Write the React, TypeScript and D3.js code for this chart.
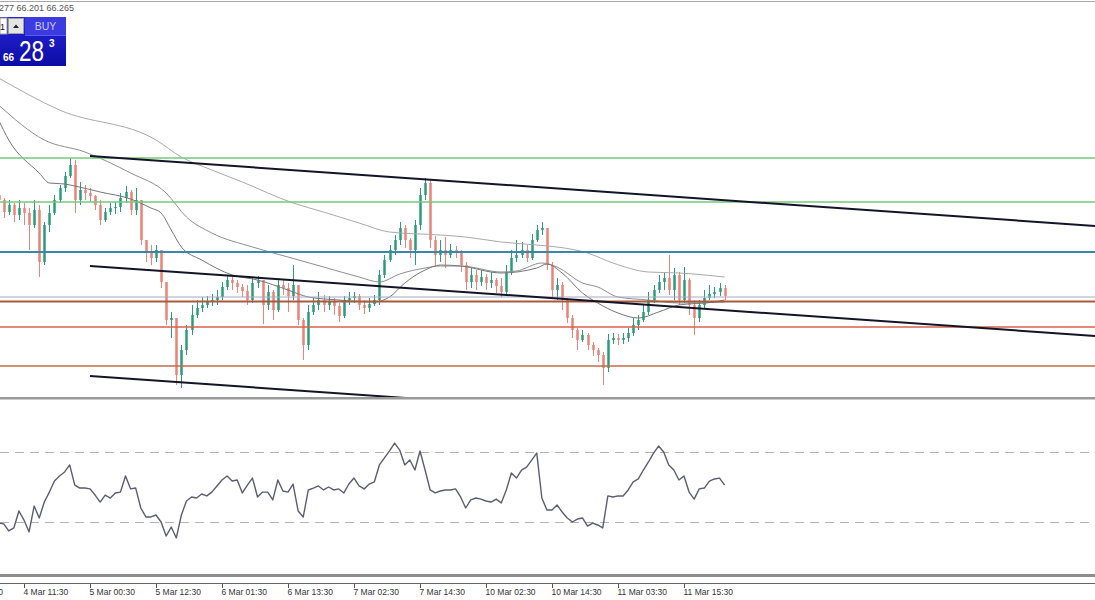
import React, { useEffect, useRef } from 'react';
import * as d3 from 'd3';

// candle data (price), one bar per slot
const firstOpen = 66.72;
const closes = [
  66.700, 66.652, 66.680, 66.640, 66.668, 66.648, 66.600, 66.660, 66.452, 66.600,
  66.648, 66.700, 66.748, 66.796, 66.840, 66.700, 66.740, 66.728, 66.716, 66.680,
  66.620, 66.652, 66.668, 66.672, 66.708, 66.732, 66.660, 66.700, 66.540, 66.492,
  66.468, 66.500, 66.372, 66.220, 66.228, 66.000, 66.100, 66.180, 66.240, 66.268,
  66.280, 66.292, 66.300, 66.312, 66.352, 66.380, 66.368, 66.352, 66.336, 66.300,
  66.368, 66.380, 66.280, 66.332, 66.260, 66.360, 66.348, 66.316, 66.360, 66.220,
  66.120, 66.252, 66.280, 66.300, 66.280, 66.292, 66.276, 66.236, 66.300, 66.308,
  66.316, 66.280, 66.268, 66.284, 66.300, 66.400, 66.460, 66.500, 66.540, 66.588,
  66.540, 66.500, 66.600, 66.720, 66.768, 66.540, 66.480, 66.500, 66.480, 66.500,
  66.492, 66.440, 66.372, 66.400, 66.372, 66.392, 66.368, 66.380, 66.356, 66.332,
  66.412, 66.468, 66.480, 66.500, 66.468, 66.540, 66.580, 66.588, 66.440, 66.340,
  66.360, 66.300, 66.228, 66.180, 66.140, 66.160, 66.120, 66.100, 66.080, 66.028,
  66.140, 66.148, 66.140, 66.148, 66.168, 66.200, 66.220, 66.252, 66.300, 66.340,
  66.372, 66.388, 66.340, 66.400, 66.300, 66.380, 66.280, 66.228, 66.280, 66.308,
  66.324, 66.332, 66.348, 66.316,
];
const highs = [
  66.740, 66.708, 66.700, 66.688, 66.700, 66.688, 66.668, 66.700, 66.680, 66.612,
  66.680, 66.720, 66.760, 66.812, 66.868, 66.860, 66.772, 66.760, 66.748, 66.720,
  66.700, 66.668, 66.688, 66.692, 66.728, 66.756, 66.740, 66.748, 66.680, 66.540,
  66.520, 66.520, 66.500, 66.372, 66.252, 66.228, 66.120, 66.200, 66.280, 66.300,
  66.312, 66.316, 66.324, 66.340, 66.372, 66.396, 66.396, 66.380, 66.364, 66.360,
  66.392, 66.396, 66.380, 66.360, 66.340, 66.388, 66.380, 66.368, 66.440, 66.360,
  66.228, 66.280, 66.308, 66.332, 66.320, 66.316, 66.308, 66.288, 66.316, 66.332,
  66.332, 66.324, 66.300, 66.308, 66.320, 66.420, 66.480, 66.520, 66.560, 66.612,
  66.600, 66.548, 66.620, 66.748, 66.788, 66.780, 66.556, 66.540, 66.552, 66.524,
  66.516, 66.500, 66.452, 66.428, 66.420, 66.420, 66.404, 66.412, 66.388, 66.388,
  66.440, 66.500, 66.540, 66.532, 66.520, 66.564, 66.600, 66.612, 66.588, 66.452,
  66.388, 66.372, 66.308, 66.240, 66.188, 66.180, 66.168, 66.132, 66.108, 66.092,
  66.164, 66.168, 66.164, 66.168, 66.188, 66.228, 66.240, 66.280, 66.332, 66.360,
  66.400, 66.412, 66.480, 66.428, 66.412, 66.432, 66.388, 66.300, 66.300, 66.340,
  66.360, 66.352, 66.368, 66.360,
];
const lows = [
  66.680, 66.628, 66.640, 66.612, 66.620, 66.600, 66.500, 66.588, 66.392, 66.440,
  66.572, 66.640, 66.688, 66.732, 66.788, 66.648, 66.680, 66.700, 66.692, 66.660,
  66.600, 66.612, 66.640, 66.644, 66.652, 66.688, 66.640, 66.640, 66.520, 66.452,
  66.440, 66.452, 66.348, 66.200, 66.148, 65.960, 65.948, 66.080, 66.160, 66.228,
  66.252, 66.268, 66.276, 66.280, 66.300, 66.340, 66.340, 66.328, 66.312, 66.280,
  66.288, 66.348, 66.204, 66.260, 66.220, 66.252, 66.320, 66.252, 66.300, 66.200,
  66.060, 66.100, 66.240, 66.260, 66.252, 66.260, 66.240, 66.212, 66.228, 66.280,
  66.288, 66.260, 66.244, 66.252, 66.276, 66.280, 66.388, 66.452, 66.480, 66.520,
  66.508, 66.468, 66.440, 66.580, 66.700, 66.508, 66.440, 66.452, 66.428, 66.468,
  66.468, 66.412, 66.340, 66.348, 66.340, 66.356, 66.340, 66.348, 66.328, 66.312,
  66.320, 66.400, 66.452, 66.468, 66.452, 66.460, 66.532, 66.560, 66.420, 66.308,
  66.300, 66.260, 66.208, 66.148, 66.100, 66.132, 66.100, 66.076, 66.052, 65.960,
  66.012, 66.124, 66.120, 66.124, 66.132, 66.156, 66.180, 66.212, 66.240, 66.288,
  66.328, 66.340, 66.320, 66.300, 66.280, 66.288, 66.240, 66.160, 66.212, 66.268,
  66.300, 66.308, 66.316, 66.300,
];

// oscillator (0-100), one value per bar
const rsi = [
  29.4, 28.9, 24.9, 26.6, 36.3, 31.1, 24.3, 39.1, 32.3, 41.4,
  47.1, 53.4, 56.3, 58.6, 62.6, 51.1, 49.4, 49.4, 48.9, 45.4,
  41.4, 45.4, 43.7, 46.6, 47.1, 56.3, 48.9, 49.4, 38.0, 32.9,
  32.9, 34.0, 30.0, 22.0, 27.1, 20.9, 34.0, 42.0, 44.3, 43.7,
  46.0, 44.9, 47.1, 50.6, 54.0, 56.3, 53.4, 54.0, 46.6, 51.1,
  55.1, 44.3, 47.1, 47.1, 42.6, 54.0, 47.7, 47.1, 51.7, 36.3,
  32.9, 48.3, 49.4, 50.6, 48.3, 50.0, 48.3, 48.9, 46.6, 51.7,
  55.1, 50.6, 48.9, 51.7, 52.9, 62.6, 66.6, 70.6, 75.1, 71.1,
  62.6, 65.4, 59.7, 70.6, 59.7, 48.3, 46.6, 47.7, 48.3, 48.3,
  48.9, 44.3, 38.0, 42.6, 43.7, 43.1, 42.0, 41.4, 43.1, 40.9,
  48.3, 58.0, 55.1, 59.7, 61.4, 65.4, 69.4, 43.7, 36.9, 36.9,
  39.7, 35.7, 32.3, 30.0, 31.7, 32.3, 27.7, 29.4, 28.3, 26.6,
  44.9, 44.3, 44.9, 44.9, 48.3, 52.9, 54.6, 59.7, 64.3, 69.4,
  73.4, 70.0, 62.6, 59.7, 54.0, 56.3, 47.1, 43.1, 48.9, 49.4,
  53.4, 54.6, 55.1, 51.1,
];
const rsiLevels = [70, 30];

// moving averages: [bar index, price]
const maSlow = [
  [0, 67.188], [12, 67.06], [31, 66.94], [36, 66.872], [42, 66.82], [48, 66.772],
  [58, 66.688], [64, 66.652], [71, 66.608], [77, 66.572], [87, 66.56], [92, 66.552],
  [99, 66.532], [106, 66.52], [110, 66.512], [116, 66.488], [121, 66.448],
  [128, 66.412], [134, 66.408], [143, 66.392],
];
const maMid = [
  [0, 67.08], [9, 66.94], [17, 66.892], [26, 66.808], [33, 66.728], [37, 66.632],
  [42, 66.568], [50, 66.512], [57, 66.472], [64, 66.432], [71, 66.392], [75, 66.372],
  [79, 66.404], [84, 66.428], [87, 66.436], [91, 66.436], [99, 66.412], [102, 66.416],
  [107, 66.448], [110, 66.432], [115, 66.368], [118, 66.352], [122, 66.312],
  [128, 66.3], [134, 66.288], [143, 66.292],
];
const maFast = [
  [0, 67.02], [2, 66.94], [8, 66.808], [10, 66.768], [13, 66.764], [15, 66.756],
  [20, 66.732], [26, 66.704], [30, 66.668], [32, 66.648], [34, 66.58], [36, 66.512],
  [40, 66.46], [46, 66.4], [51, 66.38], [57, 66.34], [61, 66.312], [67, 66.3],
  [74, 66.292], [77, 66.312], [80, 66.368], [84, 66.42], [87, 66.44], [91, 66.436],
  [99, 66.408], [106, 66.428], [108, 66.444], [111, 66.408], [115, 66.328],
  [118, 66.288], [122, 66.248], [126, 66.228], [130, 66.252], [134, 66.28],
  [141, 66.292], [143, 66.3],
];

// horizontal levels and channel lines
const levelPrices = [66.868, 66.692, 66.492, 66.312, 66.294, 66.192, 66.036];
const trendFrom = 18;
const trendTo = 216;
const trendPrices = [
  [66.876, 66.596],
  [66.436, 66.156],
  [65.996, 65.716],
];

const tickIdx = [-8, 5, 18, 31, 44, 57, 70, 83, 96, 109, 122, 135];
const tickLabels = [
  '3 Mar 22:30', '4 Mar 11:30', '5 Mar 00:30', '5 Mar 12:30', '6 Mar 01:30', '6 Mar 13:30',
  '7 Mar 02:30', '7 Mar 14:30', '10 Mar 02:30', '10 Mar 14:30', '11 Mar 03:30', '11 Mar 15:30',
];

const quote = ['66.277', '66.201', '66.265'];
const ask = ['66', '28', '3'];

const App: React.FC = () => {
  const svgRef = useRef<SVGSVGElement>(null);

  useEffect(() => {
    if (!svgRef.current) return;
    const width = 1095;
    const height = 600;
    const font = 'Liberation Sans, Arial, sans-serif';

    const x = d3.scaleLinear().domain([5, 135]).range([24, 684]);
    const y = d3.scaleLinear().domain([65.908, 67.5]).range([398, 0]);
    const yR = d3.scaleLinear().domain([0, 100]).range([574.5, 399.5]);

    const svg = d3.select(svgRef.current)
      .attr('width', width)
      .attr('height', height)
      .html('');

    svg.append('rect').attr('width', width).attr('height', height).attr('fill', '#ffffff');

    const defs = svg.append('defs');
    defs.append('clipPath').attr('id', 'mainClip')
      .append('rect').attr('x', 0).attr('y', 2).attr('width', width).attr('height', 395);
    defs.append('clipPath').attr('id', 'subClip')
      .append('rect').attr('x', 0).attr('y', 400).attr('width', width).attr('height', 174);
    const grad = defs.append('linearGradient').attr('id', 'askGrad')
      .attr('x1', 0).attr('y1', 0).attr('x2', 0).attr('y2', 1);
    grad.append('stop').attr('offset', '0%').attr('stop-color', '#2626d8');
    grad.append('stop').attr('offset', '100%').attr('stop-color', '#0c0ca6');

    // top border
    svg.append('line').attr('x1', 0).attr('x2', width).attr('y1', 1.5).attr('y2', 1.5)
      .attr('stroke', '#a8a8a8').attr('stroke-width', 1);

    const main = svg.append('g').attr('clip-path', 'url(#mainClip)');

    // candles
    const bars = closes.map((c, i) => ({
      i,
      o: i === 0 ? firstOpen : closes[i - 1],
      c,
      h: highs[i],
      l: lows[i],
    }));
    const candle = main.selectAll('.candle').data(bars).enter().append('g');
    candle.append('line')
      .attr('x1', d => Math.round(x(d.i)) + 0.5)
      .attr('x2', d => Math.round(x(d.i)) + 0.5)
      .attr('y1', d => y(Math.max(d.h, d.o, d.c)))
      .attr('y2', d => y(Math.min(d.l, d.o, d.c)))
      .attr('stroke', d => (d.c >= d.o ? '#2a9d78' : '#ea8378'))
      .attr('stroke-width', 1);
    candle.append('rect')
      .attr('x', d => Math.round(x(d.i)) - 0.75)
      .attr('width', 2.5)
      .attr('y', d => y(Math.max(d.o, d.c)))
      .attr('height', d => Math.max(1, Math.abs(y(d.o) - y(d.c))))
      .attr('fill', d => (d.c >= d.o ? '#2a9d78' : '#ea8378'));

    // moving averages
    const maLine = d3.line<number[]>()
      .x(d => x(d[0]))
      .y(d => y(d[1]))
      .curve(d3.curveMonotoneX);
    [
      { pts: maSlow, color: '#aaaaaa' },
      { pts: maMid, color: '#8f8f8f' },
      { pts: maFast, color: '#777777' },
    ].forEach(m => {
      main.append('path')
        .attr('d', maLine(m.pts) as string)
        .attr('fill', 'none')
        .attr('stroke', m.color)
        .attr('stroke-width', 1);
    });

    // horizontal levels
    const levelStyle = [
      { color: '#78c878', w: 1.5 },
      { color: '#78c878', w: 1.5 },
      { color: '#3d87a6', w: 2 },
      { color: '#a9a9bd', w: 1 },
      { color: '#a65a3e', w: 2 },
      { color: '#d8604c', w: 1.5 },
      { color: '#c46b4c', w: 1.5 },
    ];
    levelPrices.forEach((p, k) => {
      main.append('line')
        .attr('x1', 0).attr('x2', width)
        .attr('y1', y(p)).attr('y2', y(p))
        .attr('stroke', levelStyle[k].color)
        .attr('stroke-width', levelStyle[k].w);
    });

    // channel lines
    trendPrices.forEach(tp => {
      main.append('line')
        .attr('x1', x(trendFrom)).attr('y1', y(tp[0]))
        .attr('x2', x(trendTo)).attr('y2', y(tp[1]))
        .attr('stroke', '#141428')
        .attr('stroke-width', 2);
    });

    // panel separators
    svg.append('rect').attr('x', 0).attr('y', 397).attr('width', width).attr('height', 2.5)
      .attr('fill', '#9a9a9a');
    svg.append('rect').attr('x', 0).attr('y', 574).attr('width', width).attr('height', 3)
      .attr('fill', '#8e8e8e');
    svg.append('line').attr('x1', 0).attr('x2', width).attr('y1', 583.5).attr('y2', 583.5)
      .attr('stroke', '#666666').attr('stroke-width', 1);

    // oscillator
    const sub = svg.append('g').attr('clip-path', 'url(#subClip)');
    rsiLevels.forEach(v => {
      sub.append('line')
        .attr('x1', 0).attr('x2', width)
        .attr('y1', Math.round(yR(v)) + 0.5).attr('y2', Math.round(yR(v)) + 0.5)
        .attr('stroke', '#b4b4b4')
        .attr('stroke-dasharray', '9 6');
    });
    const rsiLine = d3.line<number>()
      .x((d, i) => x(i))
      .y(d => yR(d));
    sub.append('path')
      .attr('d', rsiLine(rsi) as string)
      .attr('fill', 'none')
      .attr('stroke', '#5c5c72')
      .attr('stroke-width', 1.4)
      .attr('stroke-linejoin', 'round');

    // time axis
    const ax = svg.append('g');
    tickIdx.forEach((t, k) => {
      const tx = Math.round(x(t)) + 0.5;
      ax.append('line').attr('x1', tx).attr('x2', tx).attr('y1', 584).attr('y2', 588)
        .attr('stroke', '#555555');
      ax.append('text')
        .attr('x', tx - 1).attr('y', 595)
        .attr('font-family', font).attr('font-size', 8.5)
        .attr('fill', '#333333')
        .text(tickLabels[k]);
    });

    // header quote (left part runs off the edge)
    svg.append('text')
      .attr('x', 74).attr('y', 11)
      .attr('text-anchor', 'end')
      .attr('font-family', font).attr('font-size', 9)
      .attr('fill', '#555555')
      .text(quote.join(' '));

    // one-click trading box
    const box = svg.append('g');
    box.append('rect').attr('x', 0).attr('y', 17).attr('width', 66).attr('height', 49)
      .attr('fill', 'url(#askGrad)');
    box.append('rect').attr('x', 0).attr('y', 18).attr('width', 7).attr('height', 16)
      .attr('fill', '#ffffff').attr('stroke', '#9a9a9a');
    box.append('text').attr('x', 5).attr('y', 30).attr('text-anchor', 'end')
      .attr('font-family', font).attr('font-size', 9).attr('fill', '#111').text('1');
    box.append('rect').attr('x', 8.5).attr('y', 18.5).attr('width', 15).attr('height', 15)
      .attr('fill', '#e4e4e4').attr('stroke', '#a0a0a0');
    box.append('path').attr('d', 'M13,28 L16,24.5 L19,28 Z').attr('fill', '#222');
    box.append('rect').attr('x', 25).attr('y', 17).attr('width', 41).attr('height', 18)
      .attr('fill', '#3b3be0');
    box.append('line').attr('x1', 25).attr('x2', 66).attr('y1', 35.5).attr('y2', 35.5)
      .attr('stroke', '#5a5aee');
    box.append('text').attr('x', 45.5).attr('y', 30).attr('text-anchor', 'middle')
      .attr('font-family', font).attr('font-size', 10.5).attr('fill', '#c9c9ff')
      .text('BUY');
    box.append('text').attr('x', 3).attr('y', 61)
      .attr('font-family', font).attr('font-size', 10).attr('font-weight', 'bold')
      .attr('fill', '#ffffff').text(ask[0]);
    box.append('text').attr('x', 19).attr('y', 61)
      .attr('font-family', font).attr('font-size', 29)
      .attr('textLength', 25).attr('lengthAdjust', 'spacingAndGlyphs')
      .attr('fill', '#ffffff').text(ask[1]);
    box.append('text').attr('x', 49).attr('y', 47)
      .attr('font-family', font).attr('font-size', 10).attr('font-weight', 'bold')
      .attr('fill', '#ffffff').text(ask[2]);
  }, []);

  return (
    <div style={{ position: 'absolute', left: 0, top: 0, width: 1095, height: 600, background: '#fff' }}>
      <svg ref={svgRef} style={{ display: 'block' }}></svg>
    </div>
  );
};

export default App;
